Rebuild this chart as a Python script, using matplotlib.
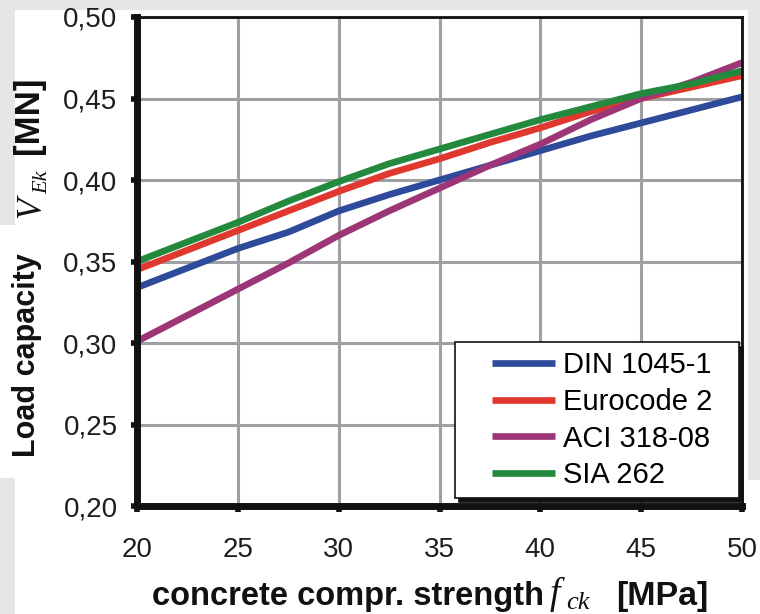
import matplotlib
matplotlib.use("Agg")
import matplotlib.pyplot as plt
from matplotlib.patches import Rectangle
from matplotlib.ticker import FuncFormatter
from matplotlib.legend_handler import HandlerLine2D

plt.rcParams["font.family"] = ["Liberation Sans", "DejaVu Sans"]

# concrete strength f_ck [MPa]
fck = [20, 22.5, 25, 27.5, 30, 32.5, 35, 37.5, 40, 42.5, 45, 47.5, 50]

# load capacity V_Ek [MN]
din_1045 = [0.334, 0.346, 0.358, 0.368, 0.381, 0.391, 0.400, 0.409, 0.418, 0.427, 0.435, 0.443, 0.451]
eurocode_2 = [0.345, 0.357, 0.369, 0.381, 0.393, 0.404, 0.413, 0.423, 0.432, 0.442, 0.450, 0.457, 0.464]
aci_318 = [0.301, 0.317, 0.333, 0.349, 0.366, 0.381, 0.395, 0.409, 0.422, 0.437, 0.450, 0.460, 0.472]
sia_262 = [0.350, 0.362, 0.374, 0.387, 0.399, 0.410, 0.419, 0.428, 0.437, 0.445, 0.453, 0.459, 0.467]

labels = ["DIN 1045-1", "Eurocode 2", "ACI 318-08", "SIA 262"]
colors = ["#2e4a9a", "#e0382e", "#9c3676", "#23893c"]

x_ticks = [20, 25, 30, 35, 40, 45, 50]
y_ticks = [0.20, 0.25, 0.30, 0.35, 0.40, 0.45, 0.50]

W, H = 760, 614
fig = plt.figure(figsize=(W / 100, H / 100), dpi=100)
fig.patch.set_facecolor("white")


def px_text(x, y, s, **kw):
    # place text using pixel coords measured from the top-left corner
    return fig.text(x / W, 1 - y / H, s, **kw)


# grey screenshot border
grey = "#e6e6e6"
for (x0, y0, w, h) in [(0, 0, W, 10), (0, 0, 15, 225), (0, 478, 15, 136), (748, 0, 12, 480)]:
    fig.patches.append(Rectangle((x0 / W, 1 - (y0 + h) / H), w / W, h / H,
                                 transform=fig.transFigure, facecolor=grey,
                                 edgecolor="none", zorder=-10))

ax = fig.add_axes([137 / W, 1 - 506 / H, (742 - 137) / W, (506 - 17) / H])

for series, lab, col in zip([din_1045, eurocode_2, aci_318, sia_262], labels, colors):
    ax.plot(fck, series, color=col, lw=4.8, label=lab, solid_capstyle="butt", zorder=3)

ax.set_xlim(20, 50)
ax.set_ylim(0.20, 0.50)
ax.set_xticks(x_ticks)
ax.set_yticks(y_ticks)
ax.yaxis.set_major_formatter(FuncFormatter(lambda v, p: f"{v:.2f}".replace(".", ",")))
ax.grid(True, color="#9fa0a3", lw=2.2, zorder=1)
ax.set_axisbelow(True)

for side in ["left", "bottom"]:
    ax.spines[side].set_linewidth(5)
for side in ["top", "right"]:
    ax.spines[side].set_linewidth(2)
for sp in ax.spines.values():
    sp.set_color("#111111")
    sp.set_zorder(4)

ax.tick_params(axis="both", direction="out", length=4, width=4, color="#111111",
               labelsize=20, labelcolor="#1e1e1e")
ax.tick_params(axis="y", pad=10)
ax.tick_params(axis="x", pad=18)

# x axis label, built from pieces so the symbol can be a serif italic
bold = dict(fontsize=23.5, fontweight="bold", color="#111111", va="baseline")
serif = dict(family="Liberation Serif", style="italic", color="#111111", va="baseline")
px_text(152, 605, "concrete compr. strength", ha="left", **bold)
px_text(550, 604, "f", ha="left", fontsize=27, **serif)
px_text(566, 609, "ck", ha="left", fontsize=19, **serif)
px_text(708, 605, "[MPa]", ha="right", fontsize=24.5, fontweight="bold",
        color="#111111", va="baseline")

# y axis label, rotated pieces
rot = dict(rotation=90, rotation_mode="anchor", ha="left")
px_text(35, 457, "Load capacity", fontsize=22, fontweight="bold", color="#111111",
        va="baseline", **rot)
px_text(40, 218, "V", fontsize=25, **rot, **serif)
px_text(47, 194, "Ek", fontsize=16, **rot, **serif)
px_text(38, 154, "[MN]", fontsize=25, fontweight="bold", color="#111111",
        va="baseline", **rot)

leg = ax.legend(loc="lower left", bbox_to_anchor=(0.526, 0.016, 0.469, 0.0),
                mode="expand", borderaxespad=0, fontsize=21, frameon=True,
                fancybox=False, handlelength=3.13, handletextpad=0.27,
                labelspacing=0.3, borderpad=0.3,
                handler_map={plt.Line2D: HandlerLine2D(xpad=0.97)},
                shadow={"color": "#111111", "alpha": 1.0, "ox": 3, "oy": -3})
leg.get_frame().set_edgecolor("#111111")
leg.get_frame().set_linewidth(1.2)
leg.set_zorder(5)
for line in leg.get_lines():
    line.set_linewidth(4.8)

fig.savefig("out.png", dpi=100)
